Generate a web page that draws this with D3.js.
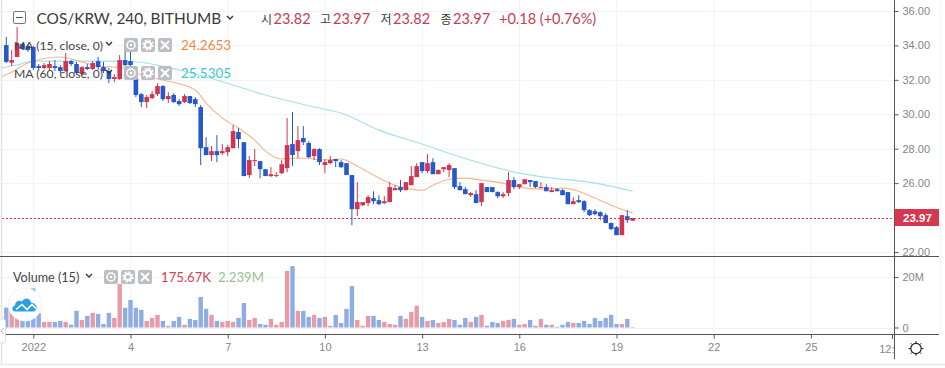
<!DOCTYPE html>
<html>
<head>
<meta charset="utf-8">
<script src="https://cdnjs.cloudflare.com/ajax/libs/d3/7.8.5/d3.min.js"></script>
<style>
  html, body { margin: 0; padding: 0; background: #fff; overflow: hidden; }
  svg { display: block; }
  text { font-family: Lato, "Noto Sans CJK KR", sans-serif; }
  .axis text { font-family: "Liberation Sans", Arial, sans-serif; font-size: 11px; fill: #858585; }
  .axis path { display: none; }
  .axis line { stroke: #555; }
</style>
</head>
<body>
<script>
// candles are 4h, index 0 = first candle of 2022, 6 candles a day
const firstIdx = -5;
const opens = [34.02,33.0,33.33,34.08,33.97,33.91,32.80,32.69,32.69,32.80,32.74,32.51,33.09,32.92,32.34,32.74,32.63,33.09,32.74,32.51,32.05,32.05,33.15,33.09,32.11,31.17,30.71,30.94,31.17,31.64,30.88,31.12,30.77,30.71,31.06,30.88,30.42,28.09,27.63,27.86,27.74,27.80,28.03,28.97,28.38,26.47,27.28,27.28,26.81,26.41,26.41,26.58,26.87,28.27,27.86,28.62,28.33,27.57,27.98,27.05,27.16,27.40,27.22,27.16,26.47,24.49,24.72,24.84,25.13,25.01,24.84,24.90,25.59,25.77,25.59,25.88,26.35,27.22,26.70,27.22,26.52,26.81,26.76,26.87,25.83,25.65,25.30,25.36,24.90,25.77,25.77,25.48,25.24,25.42,26.18,25.77,25.94,26.18,26.12,25.74,25.77,25.48,25.65,25.59,25.48,24.78,25.01,24.95,24.43,24.37,24.31,24.14,23.68,23.44,22.98,24.08,23.82];
const highs = [34.49,33.73,35.07,34.14,34.08,33.97,32.92,32.98,33.09,33.15,32.86,33.56,33.15,33.04,32.80,32.92,33.09,33.33,33.04,32.69,32.34,33.44,33.73,33.73,32.22,31.23,31.12,31.35,31.81,31.70,31.29,31.23,30.88,31.17,31.06,31.0,30.54,28.67,28.15,28.79,28.27,28.21,29.37,29.20,28.38,27.57,27.98,27.28,26.81,26.93,26.64,27.34,29.78,30.13,29.31,29.31,28.44,28.03,28.03,27.40,27.57,27.40,27.34,27.16,26.47,26.06,24.90,25.30,25.53,25.30,25.24,26.06,25.88,26.18,26.06,26.99,27.16,27.22,27.69,27.45,26.81,26.93,27.16,26.87,26.06,25.77,25.48,25.59,26.0,25.77,25.77,25.53,25.48,26.64,26.35,25.94,26.23,26.18,26.12,26.06,25.94,25.77,25.71,25.65,25.48,25.19,25.30,25.01,24.49,24.49,24.37,24.26,23.73,23.50,24.14,24.43,23.97];
const lows = [32.98,32.80,33.33,33.73,33.62,32.57,32.57,32.63,32.57,32.51,32.40,32.45,32.80,32.34,32.28,32.57,32.57,32.57,32.40,31.81,31.87,31.99,32.80,32.80,31.0,30.42,30.36,30.88,31.06,30.77,30.65,30.65,30.48,30.65,30.59,30.42,27.05,27.63,27.28,27.22,27.63,27.57,28.03,28.03,26.41,26.29,26.99,26.29,26.41,26.35,26.35,26.52,26.64,26.99,27.45,28.21,27.45,27.34,27.05,26.58,27.10,26.93,26.87,26.47,23.56,24.08,24.66,24.66,24.78,24.72,24.78,24.90,25.59,25.48,25.59,25.88,26.35,26.58,26.58,26.52,26.52,26.64,26.35,25.65,25.59,25.36,25.19,24.84,24.66,25.48,25.48,25.13,25.13,25.24,25.65,25.65,25.94,25.77,25.71,25.71,25.53,25.48,25.53,25.30,24.78,24.78,24.84,24.31,24.08,24.14,23.85,23.68,23.27,22.98,22.98,23.68,23.82];
const closes = [33.04,33.15,34.14,33.79,33.73,32.69,32.69,32.86,32.92,32.69,32.51,33.09,32.92,32.40,32.74,32.63,32.98,32.74,32.51,32.05,32.16,33.15,32.86,32.86,31.12,30.71,31.0,31.17,31.64,30.88,31.06,30.71,30.59,31.06,30.65,30.59,28.03,27.63,27.86,27.63,27.86,28.09,29.02,28.56,26.41,27.34,27.34,26.81,26.41,26.52,26.47,27.10,28.21,27.63,28.50,28.38,27.51,27.98,27.22,27.22,27.34,27.28,26.93,26.47,24.49,24.90,24.90,25.19,24.95,24.78,24.95,25.77,25.71,25.59,26.06,26.41,26.99,26.70,27.16,26.52,26.76,26.93,27.05,25.77,25.59,25.36,25.42,24.84,26.0,25.48,25.48,25.24,25.36,26.18,25.77,25.94,26.23,26.06,25.77,25.77,25.53,25.59,25.53,25.30,24.78,24.95,24.90,24.43,24.14,24.20,24.08,23.68,23.33,22.98,24.14,23.85,23.97];
// in millions
const volumes = [7.9,10.9,5,3.5,5,15.5,5.7,2.2,2.2,2.2,2.6,2.2,1.1,6.6,3,4.6,5.8,5.4,1.4,5.8,3.8,17.2,7.8,10.9,7.8,7,2.6,3.8,5,2.6,0.7,2.6,4.2,1.1,3.4,3,12.1,7.4,5,2.6,2.2,2.6,2.2,3.8,9.7,3,3.8,1.4,1.1,3.4,1.1,2.2,22.4,24.3,6.6,6.6,4.2,5,3.8,4.2,0.7,5,1.8,7.4,16.4,3,0.7,4.6,4.6,3,2.2,1.4,1.1,4.6,3.4,6.2,8.6,4.2,2.6,3,1.8,2.2,3.4,3,1.1,3.8,2.2,4.2,5,0.7,2.2,1.8,2.6,3,3.4,1.1,1.4,3,0.7,3.4,1.1,1.1,0.3,1.1,2.2,1.8,1.8,2.6,1.4,3.8,2.6,3.8,5,1.4,1.4,3.4,0.176];

const ma15Idx = [-6,-4,-1,5,9,12,17,20,24,30,32,35,38,41,43,46,48,51,53,57,59,62,66,69,72,74,77,80,83,87,90,94,98,101,104,107,111];
const ma15Val = [32.16,32.45,32.98,33.33,33.04,32.80,32.69,32.28,31.99,31.41,30.65,29.78,29.20,28.50,27.86,27.40,27.45,27.45,27.34,27.40,27.16,26.64,26.0,25.71,25.59,25.88,26.23,26.29,26.18,26.0,25.77,25.65,25.71,25.53,25.13,24.72,24.2653];
const ma60Idx = [-6,-3,0,7,13,19,27,34,43,53,57,64,72,78,84,90,96,103,111];
const ma60Val = [32.69,32.86,33.09,33.09,33.09,33.04,32.57,31.99,31.12,30.36,30.07,29.08,28.27,27.63,27.05,26.58,26.29,26.06,25.5305];

const priceTicks = [36,34,32,30,28,26,24,22];
const volTicks = [0,20];
const timeIdx = [0,18,36,54,72,90,108,126,144];
const timeLabels = ["2022","4","7","10","13","16","19","22","25"];
const lastPrice = 23.97;

const red = "#d03650", blue = "#2558c9";
const redVol = "#e69ca7", blueVol = "#8fade2";
const gridCol = "#f0f3fa";
const W = 945, H = 368, axisX = 894;

const x = d3.scaleLinear().domain([0, 18]).range([33.3, 130.5]);
const y = d3.scaleLinear().domain([36, 22]).range([11, 252]);
const yVol = d3.scaleLinear().domain([0, 20]).range([327.5, 277]);

const svg = d3.select("body").append("svg").attr("width", W).attr("height", H);

const defs = svg.append("defs");
defs.append("clipPath").attr("id", "plotClip").append("rect").attr("x", 2).attr("y", 0).attr("width", axisX - 2).attr("height", 256);
defs.append("clipPath").attr("id", "xClip").append("rect").attr("x", 0).attr("y", 330).attr("width", axisX).attr("height", 34);

// grid
svg.append("g").selectAll("line").data(timeIdx.concat([168])).enter().append("line")
  .attr("x1", d => x(d) + 0.2).attr("x2", d => x(d) + 0.2).attr("y1", 0).attr("y2", 334)
  .attr("stroke", gridCol);
svg.append("g").selectAll("line").data(priceTicks).enter().append("line")
  .attr("x1", 2).attr("x2", axisX).attr("y1", d => Math.round(y(d)) + 0.5).attr("y2", d => Math.round(y(d)) + 0.5)
  .attr("stroke", gridCol);
svg.append("g").selectAll("line").data(volTicks).enter().append("line")
  .attr("x1", 2).attr("x2", axisX).attr("y1", d => Math.round(yVol(d)) + 0.5).attr("y2", d => Math.round(yVol(d)) + 0.5)
  .attr("stroke", gridCol);

const rows = closes.map((c, i) => ({ i: firstIdx + i, o: opens[i], h: highs[i], l: lows[i], c: c, v: volumes[i] }));

// volume bars
svg.append("g").selectAll("rect").data(rows).enter().append("rect")
  .attr("x", d => x(d.i) - 2.2).attr("width", 4.4)
  .attr("y", d => yVol(d.v)).attr("height", d => yVol(0) - yVol(d.v))
  .attr("fill", d => d.c >= d.o ? redVol : blueVol);

const plot = svg.append("g").attr("clip-path", "url(#plotClip)");

// MA lines
const line = d3.line().x(d => x(d[0])).y(d => y(d[1])).curve(d3.curveMonotoneX);
plot.append("path").datum(ma60Idx.map((d, i) => [d, ma60Val[i]])).attr("d", line)
  .attr("fill", "none").attr("stroke", "#a4e1e6").attr("stroke-width", 1.1);
plot.append("path").datum(ma15Idx.map((d, i) => [d, ma15Val[i]])).attr("d", line)
  .attr("fill", "none").attr("stroke", "#f5b48c").attr("stroke-width", 1.1);

// candles
const candle = plot.append("g").selectAll("g").data(rows).enter().append("g")
  .attr("fill", d => d.c >= d.o ? red : blue)
  .attr("stroke", d => d.c >= d.o ? red : blue);
candle.append("line")
  .attr("x1", d => x(d.i)).attr("x2", d => x(d.i))
  .attr("y1", d => y(d.h)).attr("y2", d => y(d.l));
candle.append("rect")
  .attr("stroke", "none")
  .attr("x", d => x(d.i) - 2.3).attr("width", 4.6)
  .attr("y", d => y(Math.max(d.o, d.c)))
  .attr("height", d => Math.max(1, Math.abs(y(d.o) - y(d.c))));

// last price line
svg.append("line").attr("x1", 2).attr("x2", axisX)
  .attr("y1", Math.round(y(lastPrice)) + 0.5).attr("y2", Math.round(y(lastPrice)) + 0.5)
  .attr("stroke", red).attr("stroke-dasharray", "2,2");

// pane borders and axes
const dark = "#555";
svg.append("line").attr("x1", 1.5).attr("x2", 1.5).attr("y1", 0).attr("y2", 364).attr("stroke", "#e4e4e4").attr("stroke-width", 1.5);
svg.append("line").attr("x1", 0).attr("x2", W).attr("y1", 364.5).attr("y2", 364.5).attr("stroke", "#e8e8e8").attr("stroke-width", 1.5);
svg.append("line").attr("x1", 0).attr("x2", 939).attr("y1", 256.5).attr("y2", 256.5).attr("stroke", dark);
svg.append("line").attr("x1", 0).attr("x2", 939).attr("y1", 334.5).attr("y2", 334.5).attr("stroke", dark);
svg.append("line").attr("x1", axisX + 0.5).attr("x2", axisX + 0.5).attr("y1", 0).attr("y2", 359).attr("stroke", dark);

const yAxis = d3.axisRight(y).tickValues(priceTicks).tickFormat(d3.format(".2f")).tickSize(4).tickPadding(4);
svg.append("g").attr("class", "axis").attr("transform", "translate(" + (axisX + 0.5) + ",0)").call(yAxis);
const volAxis = d3.axisRight(yVol).tickValues(volTicks).tickFormat(d => d ? d + "M" : "0").tickSize(4).tickPadding(4);
svg.append("g").attr("class", "axis").attr("transform", "translate(" + (axisX + 0.5) + ",0)").call(volAxis);
const xAxis = d3.axisBottom(x).tickValues(timeIdx).tickFormat((d, i) => timeLabels[i]).tickSize(4).tickPadding(5);
svg.append("g").attr("class", "axis").attr("transform", "translate(0,334.5)").call(xAxis);

// the cut off 12:00 label next to the price axis
const xEnd = svg.append("g").attr("class", "axis").attr("clip-path", "url(#xClip)");
xEnd.append("line").attr("x1", 892.5).attr("x2", 892.5).attr("y1", 334).attr("y2", 339);
xEnd.append("text").attr("x", 893).attr("y", 353).attr("text-anchor", "middle").text("12:00");

// last price tag
svg.append("rect").attr("x", axisX + 0.5).attr("y", 209).attr("width", 44.5).attr("height", 17).attr("fill", "#d4374e");
svg.append("text").attr("x", 903).attr("y", 221.5).attr("fill", "#fff")
  .attr("font-size", 11.5).attr("font-weight", "bold").style("font-family", "'Liberation Sans', Arial, sans-serif").text(d3.format(".2f")(lastPrice));

// header legend
const txtCol = "#3a3a3a", valCol = "#c63c55";
function label(px, py, str, col, size) {
  svg.append("text").attr("x", px).attr("y", py).attr("fill", col).attr("font-size", size).text(str);
}
function chevron(px, py) {
  svg.append("path").attr("d", "M" + px + "," + py + "l3,3l3,-3").attr("fill", "none").attr("stroke", "#333").attr("stroke-width", 1.3);
}
function icons(px, py) {
  [0, 17, 34].forEach((dx, k) => {
    const g = svg.append("g").attr("transform", "translate(" + (px + dx) + "," + py + ")");
    g.append("rect").attr("width", 14).attr("height", 14).attr("rx", 2).attr("fill", "#bcbec4");
    if (k === 0) {
      g.append("circle").attr("cx", 7).attr("cy", 7).attr("r", 4).attr("fill", "none").attr("stroke", "#fff").attr("stroke-width", 1.5);
      g.append("circle").attr("cx", 7).attr("cy", 7).attr("r", 1.3).attr("fill", "#fff");
    } else if (k === 1) {
      g.append("circle").attr("cx", 7).attr("cy", 7).attr("r", 3.2).attr("fill", "none").attr("stroke", "#fff").attr("stroke-width", 2.2);
      g.append("circle").attr("cx", 7).attr("cy", 7).attr("r", 5).attr("fill", "none").attr("stroke", "#fff").attr("stroke-width", 1.4).attr("stroke-dasharray", "2,1.9");
    } else {
      g.append("path").attr("d", "M3,3L11,11M11,3L3,11").attr("stroke", "#fff").attr("stroke-width", 2);
    }
  });
}

svg.append("rect").attr("x", 13.5).attr("y", 11.5).attr("width", 12).attr("height", 12).attr("rx", 1.5).attr("fill", "#fff").attr("stroke", "#777");
svg.append("line").attr("x1", 16).attr("x2", 23).attr("y1", 17.5).attr("y2", 17.5).attr("stroke", "#555");
label(36.5, 23.5, "COS/KRW, 240, BITHUMB", txtCol, 15.4);
chevron(227, 16);
label(261, 23.5, "시", txtCol, 12);
label(273.5, 23.5, "23.82", valCol, 14.5);
label(320, 23.5, "고", txtCol, 12);
label(333, 23.5, "23.97", valCol, 14.5);
label(380.5, 23.5, "저", txtCol, 12);
label(393, 23.5, "23.82", valCol, 14.5);
label(440.5, 23.5, "종", txtCol, 12);
label(453, 23.5, "23.97", valCol, 14.5);
label(499, 23.5, "+0.18 (+0.76%)", valCol, 14.5);

label(14, 50, "MA (15, close, 0)", "#444", 12.2);
chevron(106, 42);
icons(124, 38);
label(181, 50, "24.2653", "#f0883e", 13.5);

label(14, 78, "MA (60, close, 0)", "#444", 12.2);
chevron(106, 70);
icons(124, 66);
label(181, 78, "25.5305", "#3cc6d0", 13.5);

label(13, 282, "Volume (15)", "#444", 12.6);
chevron(86, 274);
icons(104, 270);
label(161, 282, "175.67K", "#c8465c", 13.2);
label(218, 282, "2.239M", "#9dbd95", 13.2);

// logo
const logo = svg.append("g").attr("transform", "translate(25,304.5)");
logo.append("circle").attr("r", 16.5).attr("fill", "#fff").attr("stroke", "#eef1f5");
logo.append("path").attr("d", "M-10,7C-13,7 -14,2 -10,1C-10,-3 -6,-5 -3,-3C-1,-7 5,-7 6,-2C10,-2 13,2 11,5C10,7 9,7 7,7Z").attr("fill", "#2f9fe3");
logo.append("path").attr("d", "M-9,5L-3,0L2,5L7,0L11,4").attr("fill", "none").attr("stroke", "#fff").attr("stroke-width", 1.6);

// side tab
svg.append("path").attr("d", "M0,319H3Q5.5,319 5.5,322V340Q5.5,343 3,343H0").attr("fill", "#fff").attr("stroke", "#ddd");
svg.append("path").attr("d", "M3.5,328l-2.5,3l2.5,3").attr("fill", "none").attr("stroke", "#bbb");

// settings sun
const sun = svg.append("g").attr("transform", "translate(916,348.5)").attr("stroke", "#222");
sun.append("circle").attr("r", 5.2).attr("fill", "none").attr("stroke-width", 1.2);
d3.range(8).forEach(k => {
  const a = k * Math.PI / 4;
  sun.append("line").attr("x1", 5.5 * Math.cos(a)).attr("y1", 5.5 * Math.sin(a))
    .attr("x2", 7.5 * Math.cos(a)).attr("y2", 7.5 * Math.sin(a)).attr("stroke-width", 1);
});
</script>
</body>
</html>
